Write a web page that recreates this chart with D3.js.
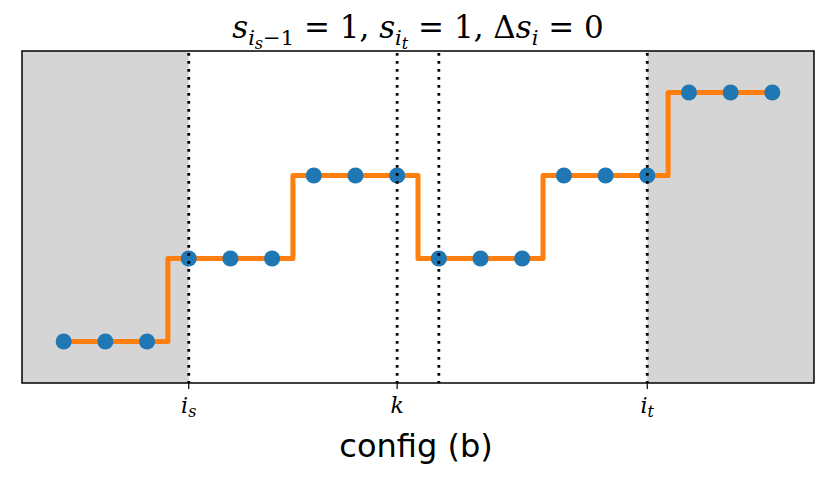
<!DOCTYPE html>
<html><head><meta charset="utf-8">
<script src="https://cdn.jsdelivr.net/npm/d3@7"></script>
<style>body{margin:0;background:#fff}
.serif{font-family:"DejaVu Serif","Liberation Serif",serif}
.sans{font-family:"DejaVu Sans",sans-serif}
</style>
</head><body>
<svg id="c" width="829" height="488"></svg>
<script>
const xs = [0,1,2,3,4,5,6,7,8,9,10,11,12,13,14,15,16,17];
const levels = [0,0,0,1,1,1,2,2,2,1,1,1,2,2,2,3,3,3];
const vlines = [3,8,9,14];
const tickPos = [3,8,14];
const tickLabels = [["i","s"],["k",null],["i","t"]];
const shadeRanges = [[-1,3],[14,18]];

const svg = d3.select("#c");
const L=22, R=814, T=51, B=383;
const x = d3.scaleLinear().domain([-1,18]).range([L,R]);
const y = d3.scaleLinear().domain([-0.5,3.5]).range([B,T]);

svg.selectAll("rect.sh").data(shadeRanges).enter().append("rect")
  .attr("x",d=>x(d[0])).attr("width",d=>x(d[1])-x(d[0]))
  .attr("y",T).attr("height",B-T).attr("fill","#d5d5d5");

const pts = xs.map((v,i)=>[v,levels[i]]);
svg.append("path").datum(pts)
  .attr("d", d3.line().x(d=>x(d[0])).y(d=>y(d[1])).curve(d3.curveStep))
  .attr("fill","none").attr("stroke","#ff7f0e").attr("stroke-width",5)
  .attr("stroke-linejoin","round").attr("stroke-linecap","round");

svg.selectAll("circle").data(pts).enter().append("circle")
  .attr("cx",d=>x(d[0])).attr("cy",d=>y(d[1])).attr("r",8).attr("fill","#1f77b4");

svg.selectAll("line.v").data(vlines).enter().append("line")
  .attr("x1",d=>x(d)).attr("x2",d=>x(d)).attr("y1",T+2).attr("y2",B)
  .attr("stroke","#000").attr("stroke-width",2.8).attr("stroke-dasharray","2.8,5.2");

svg.append("rect").attr("x",L).attr("y",T).attr("width",R-L).attr("height",B-T)
  .attr("fill","none").attr("stroke","#000").attr("stroke-width",1.5);

// ticks
const g = svg.append("g");
tickPos.forEach((p,i)=>{
  g.append("line").attr("x1",x(p)).attr("x2",x(p)).attr("y1",B).attr("y2",B+6)
    .attr("stroke","#000").attr("stroke-width",1.2);
  const t = g.append("text").attr("class","serif").attr("x",x(p)).attr("y",413).attr("text-anchor","middle")
    .attr("font-size",22);
  t.append("tspan").attr("font-style","italic").text(tickLabels[i][0]);
  if (tickLabels[i][1]) t.append("tspan").attr("font-style","italic").attr("font-size",16).attr("dy",4).text(tickLabels[i][1]);
});

// title
const tt = svg.append("text").attr("class","serif").attr("x",418).attr("y",38).attr("text-anchor","middle")
  .attr("font-size",31);
function it(s){tt.append("tspan").attr("font-style","italic").text(s);}
function sub(s,dy,fs){return tt.append("tspan").attr("font-style","italic").attr("font-size",fs||21).attr("dy",dy).text(s);}
it("s"); sub("i",7); sub("s",4,16); tt.append("tspan").attr("font-size",21).attr("dy",-4).text("−1");
tt.append("tspan").attr("dy",-7).text(" = 1, "); it("s"); sub("i",7); sub("t",4,16);
tt.append("tspan").attr("dy",-11).text(" = 1, Δ"); it("s"); sub("i",7);
tt.append("tspan").attr("dy",-7).text(" = 0");

svg.append("text").attr("class","sans").attr("x",416).attr("y",457).attr("text-anchor","middle")
  .attr("font-size",32).text("config (b)");
</script>
</body></html>
